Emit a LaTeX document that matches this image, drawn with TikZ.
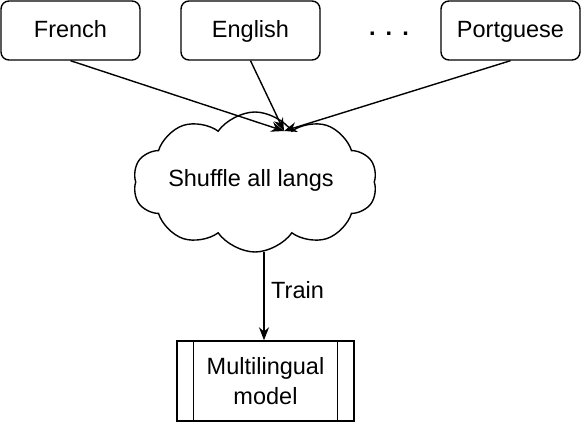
\documentclass[tikz,border=0pt]{standalone}
\usepackage{fontspec}
\setmainfont{Liberation Sans}
\usepackage{tikz}
\usetikzlibrary{shapes.symbols,arrows.meta}

\begin{document}
\begin{tikzpicture}[x=1pt,y=-1pt]
    \tikzstyle{every node}=[font=\fontsize{23.5}{30}\selectfont]
    \tikzstyle{lang}=[draw, rounded corners=8pt, line width=1.4pt, minimum width=139pt, minimum height=59pt, text height=18pt, text depth=3pt]
    \tikzstyle{arr}=[line width=1.4pt, -{Stealth[length=13pt,width=10pt]}]
    \useasboundingbox (0,0) rectangle (582,422);
    \draw (70.5, 30.5) node[lang] (french) {French};
    \draw (250.5, 30.5) node[lang] (english) {English};
    \draw (510.5, 30.5) node[lang] (portguese) {Portguese};
    \draw (389, 34) node (dots) {\textbf{.\hspace{10pt}.\hspace{10pt}.}};
    \draw (255, 182) node[draw, cloud, cloud puffs=10, cloud puff arc=110, aspect=1.75, line width=1.4pt, minimum width=244pt, minimum height=140pt, inner sep=0pt] (shuffle) {};
    \draw (251, 180) node (shufflelabel) {Shuffle all langs};
    \coordinate (cloudtop) at (284, 131);
    \coordinate (cloudbottom) at (264, 252);
    \draw (265.5, 381) node[draw, line width=1.4pt, minimum width=177pt, minimum height=80pt, align=center, inner sep=0pt] (model) {Multilingual\\model};
    \draw[line width=1.4pt] ([xshift=17pt]model.north west) -- ([xshift=17pt]model.south west);
    \draw[line width=1.4pt] ([xshift=-17pt]model.north east) -- ([xshift=-17pt]model.south east);
    \draw[arr] (french.south) -- (cloudtop);
    \draw[arr] (english.south) -- (cloudtop);
    \draw[arr] (portguese.south) -- (cloudtop);
    \draw[arr] (cloudbottom) -- (model.north -| cloudbottom);
    \draw (271, 290) node[anchor=west, inner sep=0pt] (train) {Train};
\end{tikzpicture}
\end{document}
